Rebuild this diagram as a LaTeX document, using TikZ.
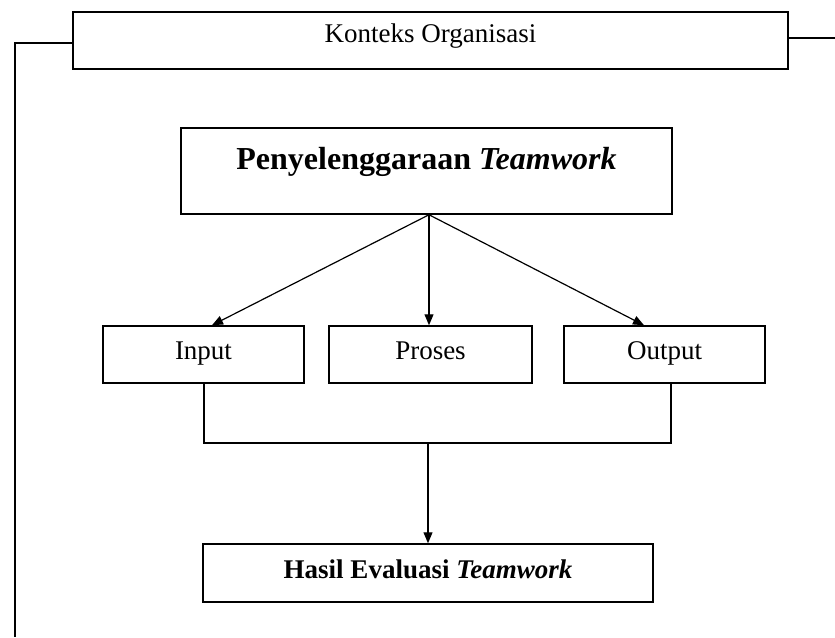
\documentclass[tikz,border=0pt]{standalone}
\usepackage{fontspec}
\setmainfont{Liberation Serif}
\usetikzlibrary{arrows.meta,calc}

\begin{document}
\begin{tikzpicture}[
    x=1pt, y=-1pt,
    box/.style={draw, line width=1.5pt, inner sep=0pt, align=center,
                font=\fontsize{27}{30}\selectfont},
    smallbox/.style={box, minimum width=201pt, minimum height=57pt,
                     text height=20pt, text depth=11pt},
    link/.style={line width=1.5pt},
    arrowlink/.style={line width=1.2pt, -{Triangle[length=11pt,width=9pt]}}
]
\useasboundingbox (0,0) rectangle (835,637);

% outer context box
\node[box, minimum width=715pt, minimum height=57pt,
      text height=18pt, text depth=15pt] (konteks) at (430.5,40.5) {Konteks Organisasi};

% main box
\node[box, minimum width=491pt, minimum height=86pt,
      text height=22pt, text depth=26pt,
      font=\fontsize{32}{36}\selectfont\bfseries] (main) at (426.5,171)
      {Penyelenggaraan \textit{Teamwork}};

% stages
\node[smallbox] (input)  at (203.5,354.5) {Input};
\node[smallbox, minimum width=203pt] (proses) at (430.5,354.5) {Proses};
\node[smallbox] (output) at (664.5,354.5) {Output};

% result
\node[box, minimum width=450pt, minimum height=58pt,
      text height=21pt, text depth=11pt, font=\fontsize{27}{30}\selectfont\bfseries]
      (hasil) at (428,573) {Hasil Evaluasi \textit{Teamwork}};

% frame lines from the context box
\coordinate (frameL) at (15,637);
\coordinate (frameR) at (835,38);
\draw[link] ($(konteks.west)+(0,2.5)$) -| (frameL);
\draw[link] ($(konteks.east)+(0,-2.5)$) -- (frameR);

% arrows from the main box to the stages
\coordinate (fork) at ($(main.south)+(2.5,0)$);
\draw[arrowlink] (fork) -- ($(input.north)+(8.5,0)$);
\draw[arrowlink] (fork) -- (proses.north -| fork);
\draw[arrowlink] (fork) -- ($(output.north)+(-20.5,0)$);

% collecting line into the result
\coordinate (bus) at (428,443);
\draw[link] ($(input.south)+(0.5,0)$) |- (bus) -| ($(output.south)+(6.5,0)$);
\draw[arrowlink] (bus) -- (hasil.north);
\end{tikzpicture}
\end{document}
